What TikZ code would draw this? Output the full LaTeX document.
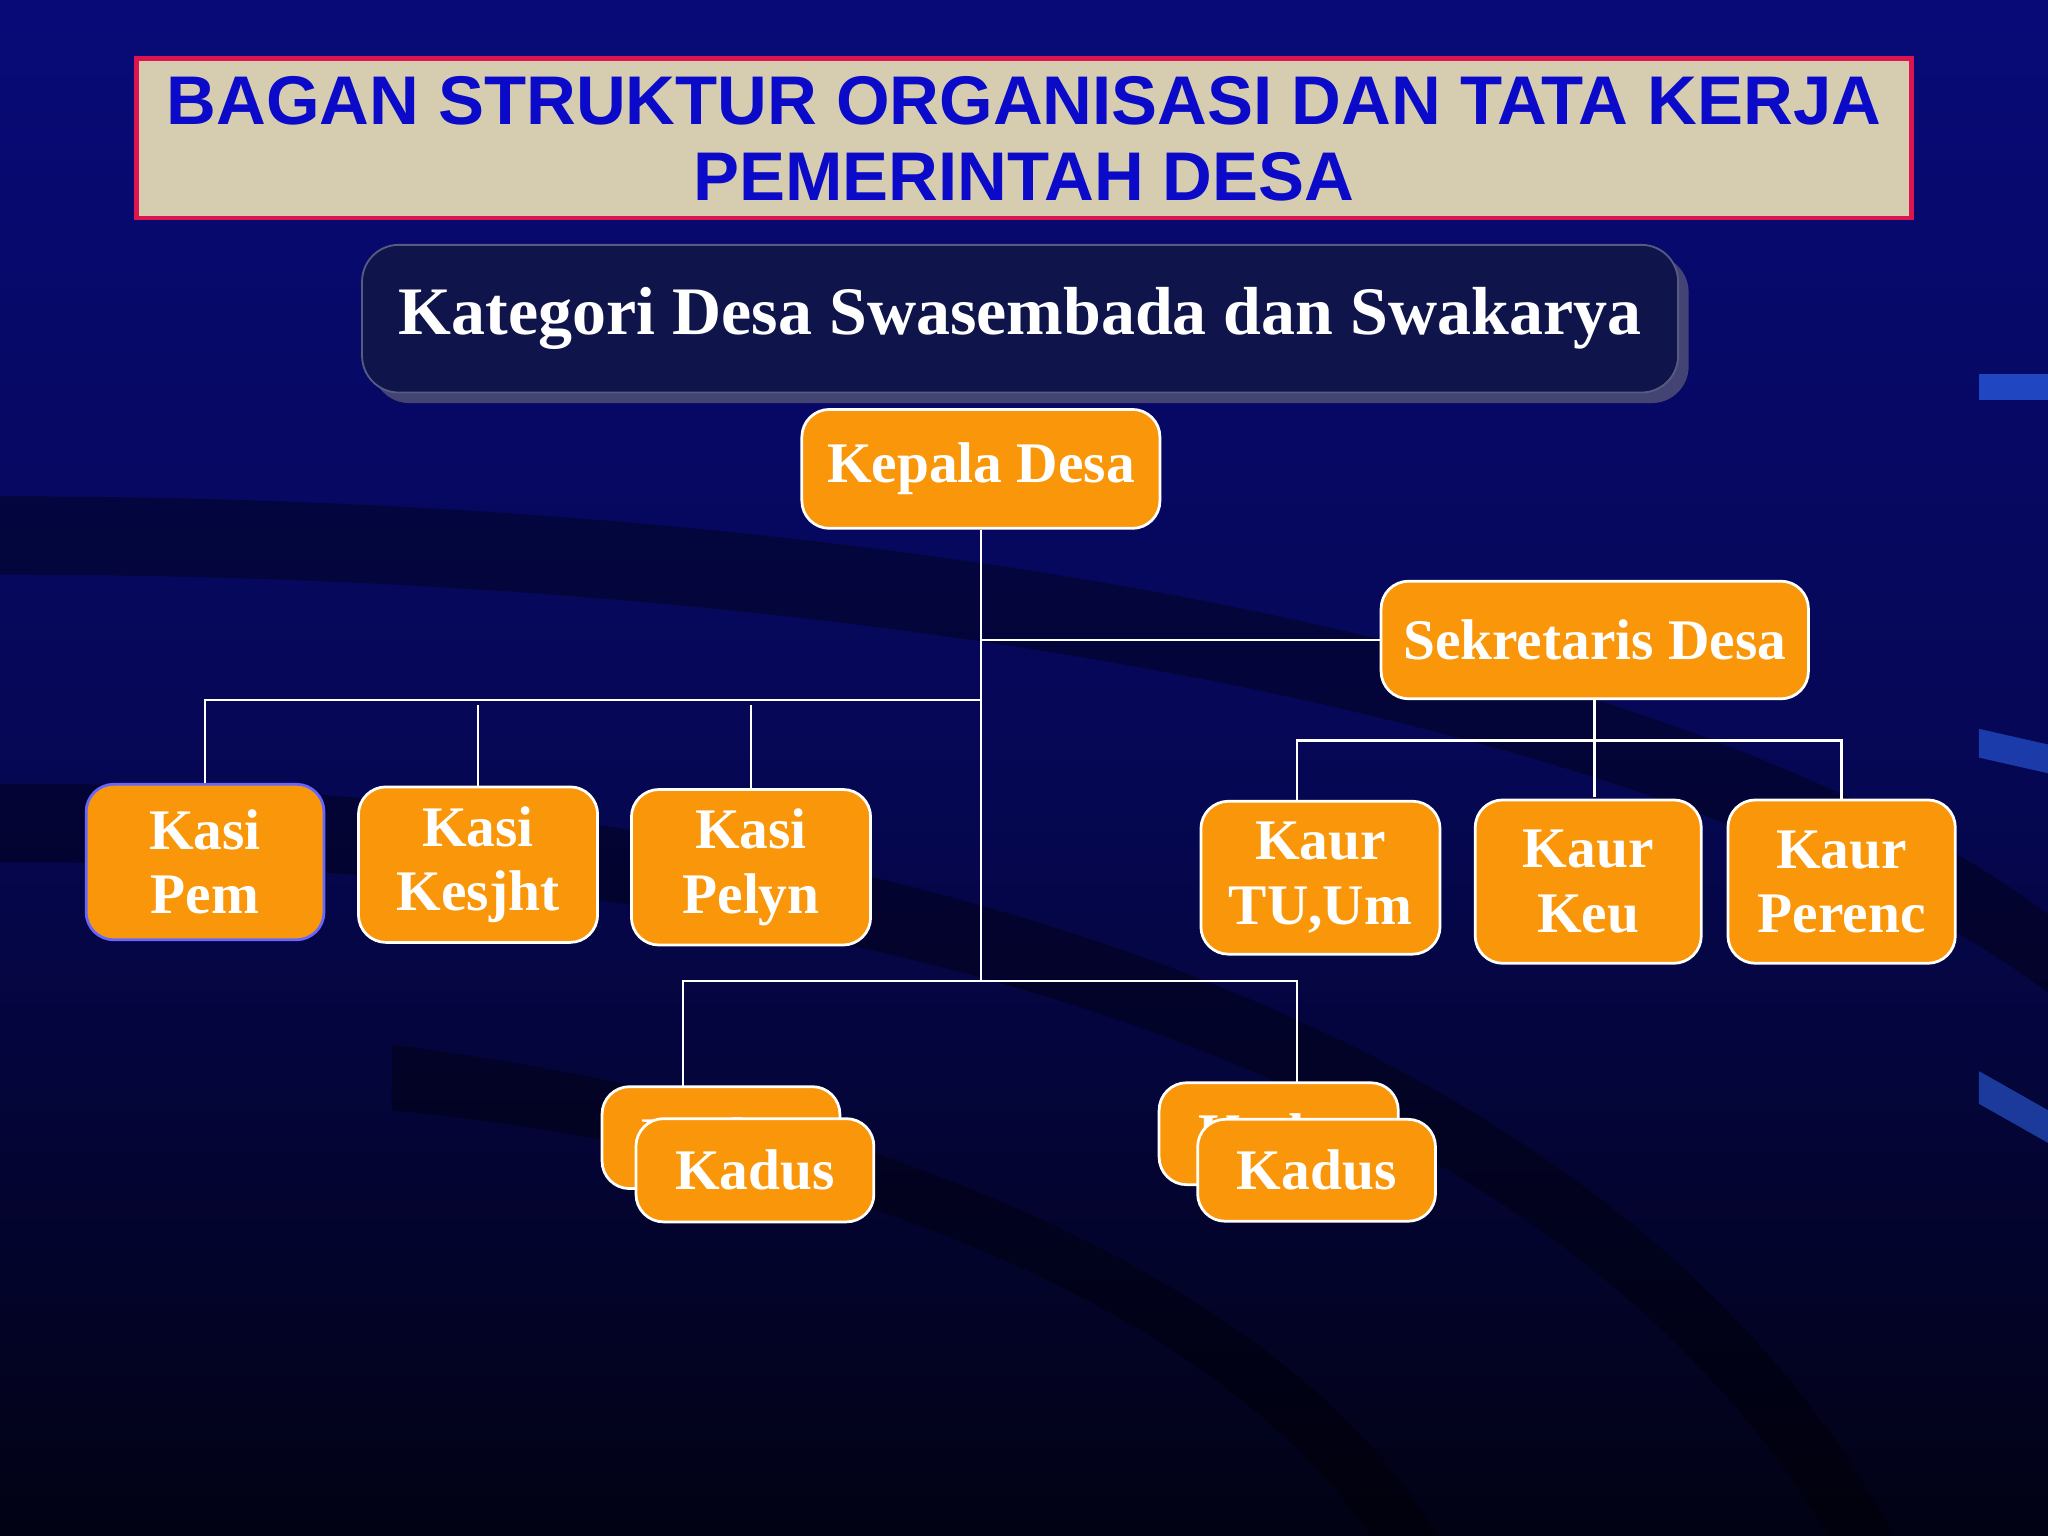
\documentclass[tikz,border=0pt]{standalone}
\usepackage{fontspec}
\setmainfont{Liberation Serif}
\newfontfamily\titlefont{Liberation Sans}
\usetikzlibrary{shadows}
\definecolor{bgtop}{RGB}{8,10,120}
\definecolor{bgbot}{RGB}{2,2,20}
\definecolor{orbox}{RGB}{250,150,10}
\definecolor{beige}{RGB}{214,204,176}
\definecolor{titleblue}{RGB}{10,10,200}
\definecolor{navy}{RGB}{15,20,75}
\tikzset{
 ob/.style={draw=white, line width=0.6pt, fill=orbox, rounded corners=6pt, text=white, font=\bfseries\fontsize{12.5}{14}\selectfont, align=center, inner sep=0pt},
 ln/.style={draw=white, line width=0.6pt},
}
\begin{document}
\begin{tikzpicture}[x=0.01cm,y=-0.01cm]
\shade[top color=bgtop, bottom color=bgbot, middle color=bgtop!70!black] (0,0) rectangle (1568,1176);
\useasboundingbox (0,0) rectangle (1568,1176);
% decorative dark arcs
\begin{scope}[opacity=0.35]
\fill[black] (0,380) .. controls (700,380) and (1300,500) .. (1568,700) -- (1568,760) .. controls (1300,560) and (700,440) .. (0,440) -- cycle;
\fill[black] (0,600) .. controls (700,600) and (1250,800) .. (1450,1176) -- (1400,1176) .. controls (1200,840) and (700,660) .. (0,660) -- cycle;
\fill[black] (300,800) .. controls (700,850) and (1000,1000) .. (1100,1176) -- (1050,1176) .. controls (950,1030) and (700,890) .. (300,850) -- cycle;
\end{scope}
\fill[blue!70!cyan!80!white, opacity=0.6] (1515,286) rectangle (1568,306);
\fill[blue!70!cyan!80!white, opacity=0.5] (1515,558) -- (1568,570) -- (1568,592) -- (1515,580) -- cycle;
\fill[blue!70!cyan!80!white, opacity=0.5] (1515,820) -- (1568,850) -- (1568,875) -- (1515,845) -- cycle;
% title
\node[draw={rgb,255:red,220;green,20;blue,80}, line width=1pt, fill=beige, minimum width=13.58cm, minimum height=1.22cm, align=center, inner sep=0pt,
 text=titleblue, font=\titlefont\bfseries\fontsize{15}{16.5}\selectfont] (title) at (784,106) {BAGAN STRUKTUR ORGANISASI DAN TATA KERJA\\PEMERINTAH DESA};
% subtitle
\node[fill=navy, rounded corners=8pt, draw=navy!70!white, minimum width=10.07cm, minimum height=1.13cm, text=white,
 font=\bfseries\fontsize{14.8}{17}\selectfont, drop shadow] (sub) at (781,244) {Kategori Desa Swasembada dan Swakarya};
% nodes
\node[ob, minimum width=2.74cm, minimum height=0.91cm] (kd) at (751,359) {Kepala Desa};
\node[ob, minimum width=3.27cm, minimum height=0.90cm] (sd) at (1221,490) {Sekretaris Desa};
\node[ob, draw=blue!60!white, minimum width=1.82cm, minimum height=1.19cm] (k1) at (157,660) {Kasi\\Pem};
\node[ob, minimum width=1.83cm, minimum height=1.19cm] (k2) at (366,662) {Kasi\\Kesjht};
\node[ob, minimum width=1.83cm, minimum height=1.19cm] (k3) at (575,664) {Kasi\\Pelyn};
\node[ob, minimum width=1.83cm, minimum height=1.17cm] (u1) at (1011,672) {Kaur\\TU,Um};
\node[ob, minimum width=1.73cm, minimum height=1.25cm] (u2) at (1216,675) {Kaur\\Keu};
\node[ob, minimum width=1.74cm, minimum height=1.25cm] (u3) at (1410,675) {Kaur\\Perenc};
\node[ob, minimum width=1.82cm, minimum height=0.78cm] (d1b) at (552,871) {Kadus};
\node[ob, minimum width=1.82cm, minimum height=0.79cm] (d1) at (578,896) {Kadus};
\node[ob, minimum width=1.83cm, minimum height=0.78cm] (d2b) at (979,868) {Kadus};
\node[ob, minimum width=1.82cm, minimum height=0.78cm] (d2) at (1008,896) {Kadus};
% connectors
\coordinate (c0) at (751,750);
\draw[ln] (kd.south) -- (c0);
\draw[ln] (kd.south |- sd.west) -- (sd.west);
\draw[ln] (k1.north) -- (157,536) -- (751,536);
\draw[ln] (k2.north) -- (366,540);
\draw[ln] (k3.north) -- (575,540);
\draw[ln] (sd.south) -- (1221,610);
\draw[ln] (993,614) -- (993,567) -- (1410,567) -- (u3.north);
\draw[ln] (523,832) -- (523,751) -- (993,751) -- (993,829);
\end{tikzpicture}
\end{document}
